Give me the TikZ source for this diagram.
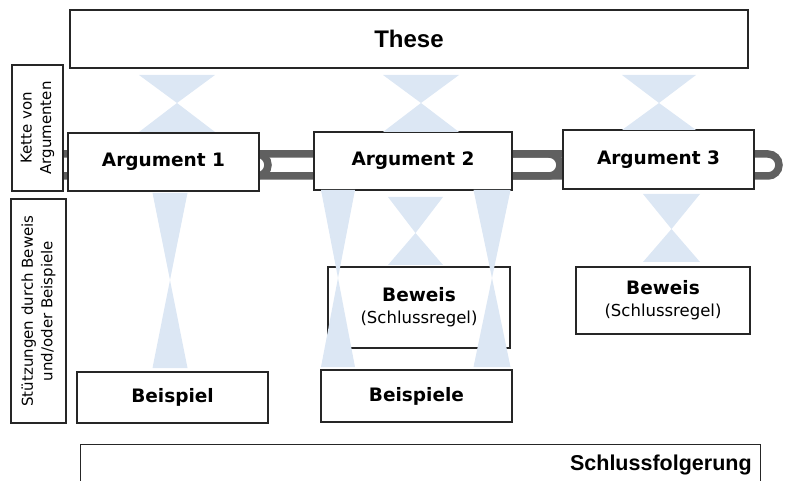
\documentclass[tikz,border=0pt]{standalone}
\usepackage{fontspec}
\setmainfont{DejaVu Sans}
\newfontfamily\narrowfont{Liberation Sans}
\definecolor{glass}{RGB}{220,231,244}
\definecolor{linkgray}{RGB}{96,96,96}
\tikzset{
	box/.style={draw=black!85, fill=white, line width=1.3pt, inner sep=0pt,
		font=\fontsize{18.5}{21}\selectfont\bfseries},
	sidebox/.style={box, rotate=90, align=center, font=\fontsize{15}{19.5}\selectfont},
	link/.style={draw=linkgray, line width=7.5pt, rounded corners=11pt}
}

\begin{document}
\begin{tikzpicture}[x=1pt, y=-1pt]
	\useasboundingbox (0,0) rectangle (790,481);
	\draw[link] (30,154) rectangle (268,176);
	\draw[link] (235,154) rectangle (560,176);
	\draw[link] (480,154) rectangle (779,176);
	\node[box, minimum width=678pt, minimum height=58pt, font=\narrowfont\fontsize{24}{28}\selectfont\bfseries]
		(these) at (409,39) {These};
	\node[sidebox, minimum width=126pt, minimum height=51pt] (kette) at (37.5,128)
		{Kette von\\Argumenten};
	\node[sidebox, minimum width=224pt, minimum height=55pt] (stuetz) at (38.5,311)
		{Stützungen durch Beweis\\und/oder Beispiele};
	\node[box, minimum width=191pt, minimum height=58pt] (arg1) at (163.5,162) {Argument 1};
	\node[box, minimum width=198pt, minimum height=58pt] (arg2) at (413,161) {Argument 2};
	\node[box, minimum width=191pt, minimum height=59pt] (arg3) at (658.5,159.5) {Argument 3};
	\node[box, minimum width=182pt, minimum height=81pt, align=center] (beweisA) at (419,307.5)
		{Beweis\\[1pt]\mdseries\fontsize{16.5}{20}\selectfont(Schlussregel)};
	\node[box, minimum width=174pt, minimum height=67pt, align=center] (beweisB) at (663,300.5)
		{Beweis\\[1pt]\mdseries\fontsize{16.5}{20}\selectfont(Schlussregel)};
	\node[box, minimum width=191pt, minimum height=51pt] (beispiel) at (172.5,397.5) {Beispiel};
	\node[box, minimum width=191pt, minimum height=52pt] (beispiele) at (416.5,396) {Beispiele};
	\node[box, minimum width=680pt, minimum height=40pt, text width=662pt, align=right,
		font=\narrowfont\fontsize{21.5}{24}\selectfont\bfseries, anchor=north west]
		(schluss) at (80,444) {Schlussfolgerung};
	\foreach \xc/\ya/\ym/\yb/\hw in {177/75/103/132/38, 421/75/103/132/38, 659/75/103/130/37,
		170/193/280/368/17.5, 338/190/278/367/17, 492/190/278/367/18.5,
		415.5/197/233/265/27.5, 671.5/194/229/262/28.5}
	\fill[glass] (\xc-\hw,\ya) -- (\xc+\hw,\ya) -- (\xc,\ym) -- cycle
		(\xc-\hw,\yb) -- (\xc+\hw,\yb) -- (\xc,\ym) -- cycle;
\end{tikzpicture}
\end{document}
